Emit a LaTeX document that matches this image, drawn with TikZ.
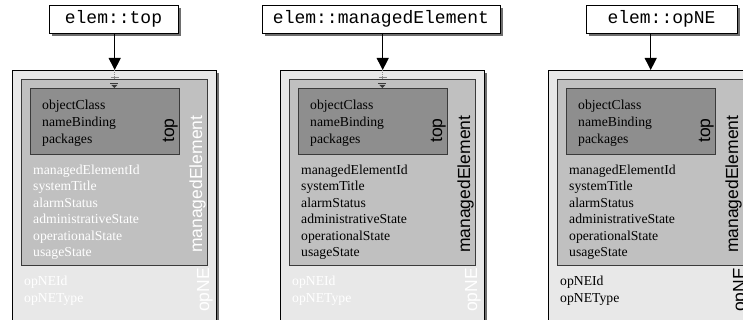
\documentclass[tikz,border=0pt]{standalone}
\usepackage{fontspec}
\setmainfont{Liberation Serif}
\setsansfont{Liberation Sans}
\setmonofont{Liberation Mono}
\usetikzlibrary{arrows.meta,shadows}
\definecolor{outerfill}{HTML}{E8E8E8}
\definecolor{midfill}{HTML}{C0C0C0}
\definecolor{innerfill}{HTML}{8E8E8E}
\definecolor{boxline}{HTML}{3A3A3A}
\definecolor{shadowgray}{HTML}{6E6E6E}
\definecolor{markgray}{HTML}{8A8A8A}
\tikzset{
  outerbox/.style={rectangle, draw=black, line width=1.4pt, fill=outerfill, anchor=north west, inner sep=0pt, minimum width=204pt, minimum height=256pt,
     drop shadow={shadow xshift=2pt, shadow yshift=-2pt, fill=shadowgray, opacity=1}},
  midbox/.style={rectangle, draw=boxline, line width=0.9pt, fill=midfill, anchor=north west, inner sep=0pt, minimum width=186pt, minimum height=186pt},
  innerbox/.style={rectangle, draw=boxline, line width=0.9pt, fill=innerfill, anchor=north west, inner sep=0pt, minimum width=149pt, minimum height=66pt},
  lblbox/.style={rectangle, draw=black, line width=0.8pt, fill=white, inner sep=0pt, minimum height=28pt,
     font=\ttfamily\fontsize{18}{20}\selectfont,
     drop shadow={shadow xshift=3pt, shadow yshift=-3pt, fill=shadowgray, opacity=1}},
  attr/.style={anchor=base west, inner sep=0pt, font=\rmfamily\fontsize{13.7}{16}\selectfont},
  rotlbl/.style={anchor=base west, inner sep=0pt, rotate=90, font=\sffamily\fontsize{17.5}{20}\selectfont},
  link/.style={line width=1pt, -{Triangle[length=12pt,width=12pt]}},
}
\newcommand\mypanel[7]{%
  \node[outerbox] (out#2) at (12+#1,70) {};
  \node[midbox] (mid#2) at (21+#1,79) {};
  \node[innerbox] (in#2) at (30+#1,88) {};
  \foreach \t [count=\i] in {objectClass,nameBinding,packages}
    \node[attr] (tp#2\i) at ({42+#1},{109.5+(\i-1)*16.8}) {\t};
  \foreach \t [count=\i] in {managedElementId,systemTitle,alarmStatus,administrativeState,operationalState,usageState}
    \node[attr, text=#6] (me#2\i) at ({33+#1},{174.5+(\i-1)*16.4}) {\t};
  \foreach \t [count=\i] in {opNEId,opNEType}
    \node[attr, text=#7] (ne#2\i) at ({24+#1},{285+(\i-1)*17}) {\t};
  \node[rotlbl] (tl#2) at (174+#1,143) {top};
  \node[rotlbl, text=#6] (ml#2) at (202+#1,253) {managedElement};
  \node[rotlbl, text=#7] (nl#2) at (209+#1,312) {opNE};
  \node[lblbox, minimum width=#5] (lbl#2) at (#4,19) {#3};
  \draw[link] (lbl#2.south -| out#2.north) -- (out#2.north);
}
\newcommand\groundmark[1]{%
  \draw[markgray, dash pattern=on 1pt off 1pt, line width=0.6pt] (out#1.north) -- ++(0,9);
  \draw[markgray, line width=0.9pt] ([shift={(-4,7)}]out#1.north) -- ++(8,0);
  \draw[boxline, line width=0.8pt] ([shift={(-4,4)}]mid#1.north) -- ++(8,0);
  \fill[boxline] ([shift={(-3,6)}]mid#1.north) -- ++(6,0) -- ++(-3,3) -- cycle;
}
\begin{document}
\begin{tikzpicture}[x=1pt,y=-1pt]
\useasboundingbox (0,0) rectangle (743,320);
\clip (0,0) rectangle (743,320);
\mypanel{0}{1}{elem::top}{113.5}{129pt}{white}{white}
\groundmark{1}
\mypanel{268}{2}{elem::managedElement}{381}{238pt}{black}{white}
\groundmark{2}
\mypanel{536}{3}{elem::opNE}{661.5}{151pt}{black}{black}
\end{tikzpicture}
\end{document}
